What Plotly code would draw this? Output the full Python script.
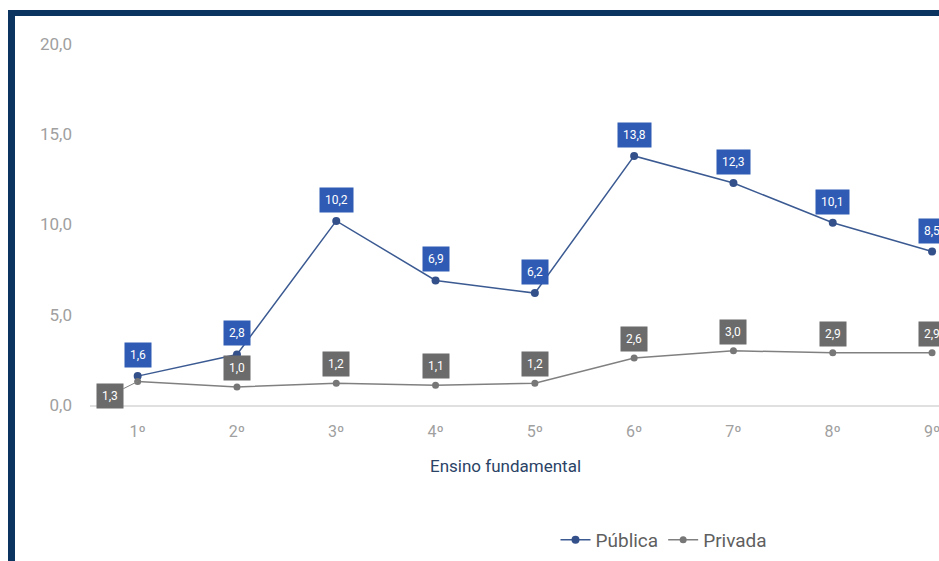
import plotly.graph_objects as go

# Series data
series_names = ["Pública", "Privada"]
grades = ["1º", "2º", "3º", "4º", "5º", "6º", "7º", "8º", "9º"]
publica = [1.6, 2.8, 10.2, 6.9, 6.2, 13.8, 12.3, 10.1, 8.5]
privada = [1.3, 1.0, 1.2, 1.1, 1.2, 2.6, 3.0, 2.9, 2.9]
y_ticks = [0, 5, 10, 15, 20]
axis_title = "Ensino fundamental"

W, H = 939, 561
NAVY = "#0c3461"
BLUE_LINE = "#3b5a92"
BLUE_BOX = "#2f5bb4"
GREY_LINE = "#808080"
GREY_BOX = "#6b6b6b"

x_idx = list(range(len(grades)))

fig = go.Figure()
fig.add_trace(go.Scatter(
    x=x_idx, y=publica, name=series_names[0], mode="lines+markers",
    line=dict(color=BLUE_LINE, width=1.5),
    marker=dict(color="#34508a", size=8),
))
fig.add_trace(go.Scatter(
    x=x_idx, y=privada, name=series_names[1], mode="lines+markers",
    line=dict(color=GREY_LINE, width=1.5),
    marker=dict(color="#777777", size=7),
))

def fmt(v):
    return f"{v:.1f}".replace(".", ",")

label_font = dict(color="white", size=12, family="Roboto")
annotations = []
for i, v in enumerate(publica):
    annotations.append(dict(
        x=i, y=v, xref="x", yref="y", text=fmt(v), showarrow=False,
        yshift=21, bgcolor=BLUE_BOX, borderpad=5, font=label_font,
    ))
for i, v in enumerate(privada):
    if i == 0:
        annotations.append(dict(
            x=i, y=v, xref="x", yref="y", text=fmt(v), showarrow=True,
            arrowhead=0, arrowwidth=1, arrowcolor=GREY_LINE,
            ax=-28, ay=14, bgcolor=GREY_BOX, borderpad=5, font=label_font,
        ))
    else:
        annotations.append(dict(
            x=i, y=v, xref="x", yref="y", text=fmt(v), showarrow=False,
            yshift=19, bgcolor=GREY_BOX, borderpad=5, font=label_font,
        ))

# Category axis title
annotations.append(dict(
    x=505 / W, y=1 - 466 / H, xref="paper", yref="paper", text=axis_title,
    xanchor="center", yanchor="middle", showarrow=False,
    font=dict(color="#2b4366", size=17, family="Roboto"),
))

# Frame: top and left navy bars
shapes = [
    dict(type="rect", xref="paper", yref="paper", x0=8 / W, x1=1.0,
         y0=1 - 16 / H, y1=1 - 10 / H, fillcolor=NAVY, line=dict(width=0)),
    dict(type="rect", xref="paper", yref="paper", x0=8 / W, x1=15 / W,
         y0=0, y1=1 - 10 / H, fillcolor=NAVY, line=dict(width=0)),
]

fig.update_layout(
    width=W, height=H,
    margin=dict(l=0, r=0, t=0, b=0, autoexpand=False),
    paper_bgcolor="white", plot_bgcolor="white",
    separators=",.",
    font=dict(family="Roboto", color="#999999"),
    showlegend=True,
    legend=dict(
        orientation="h", x=664 / W, xanchor="center",
        y=1 - 540 / H, yanchor="middle",
        font=dict(size=19, color="#5f5f5f", family="Roboto"),
        itemwidth=30,
    ),
    annotations=annotations,
    shapes=shapes,
    xaxis=dict(
        domain=[90 / W, 1.0],
        range=[-0.48, 8.07],
        tickmode="array", tickvals=x_idx, ticktext=grades,
        showgrid=False, zeroline=False, automargin=False,
        showline=True, linecolor="#e0e0e0", linewidth=2,
        ticks="", ticklabelstandoff=11, ticklabeloverflow="allow",
        tickfont=dict(size=16, color="#a0a0a0"),
    ),
    yaxis=dict(
        domain=[1 - 405 / H, 1 - 44 / H],
        range=[0, 20],
        tickmode="array", tickvals=y_ticks,
        tickformat=".1f", automargin=False,
        showgrid=False, zeroline=False, showline=False,
        ticks="", ticklabelstandoff=17,
        tickfont=dict(size=17, color="#a0a0a0"),
    ),
)

fig.write_html("out.html")
